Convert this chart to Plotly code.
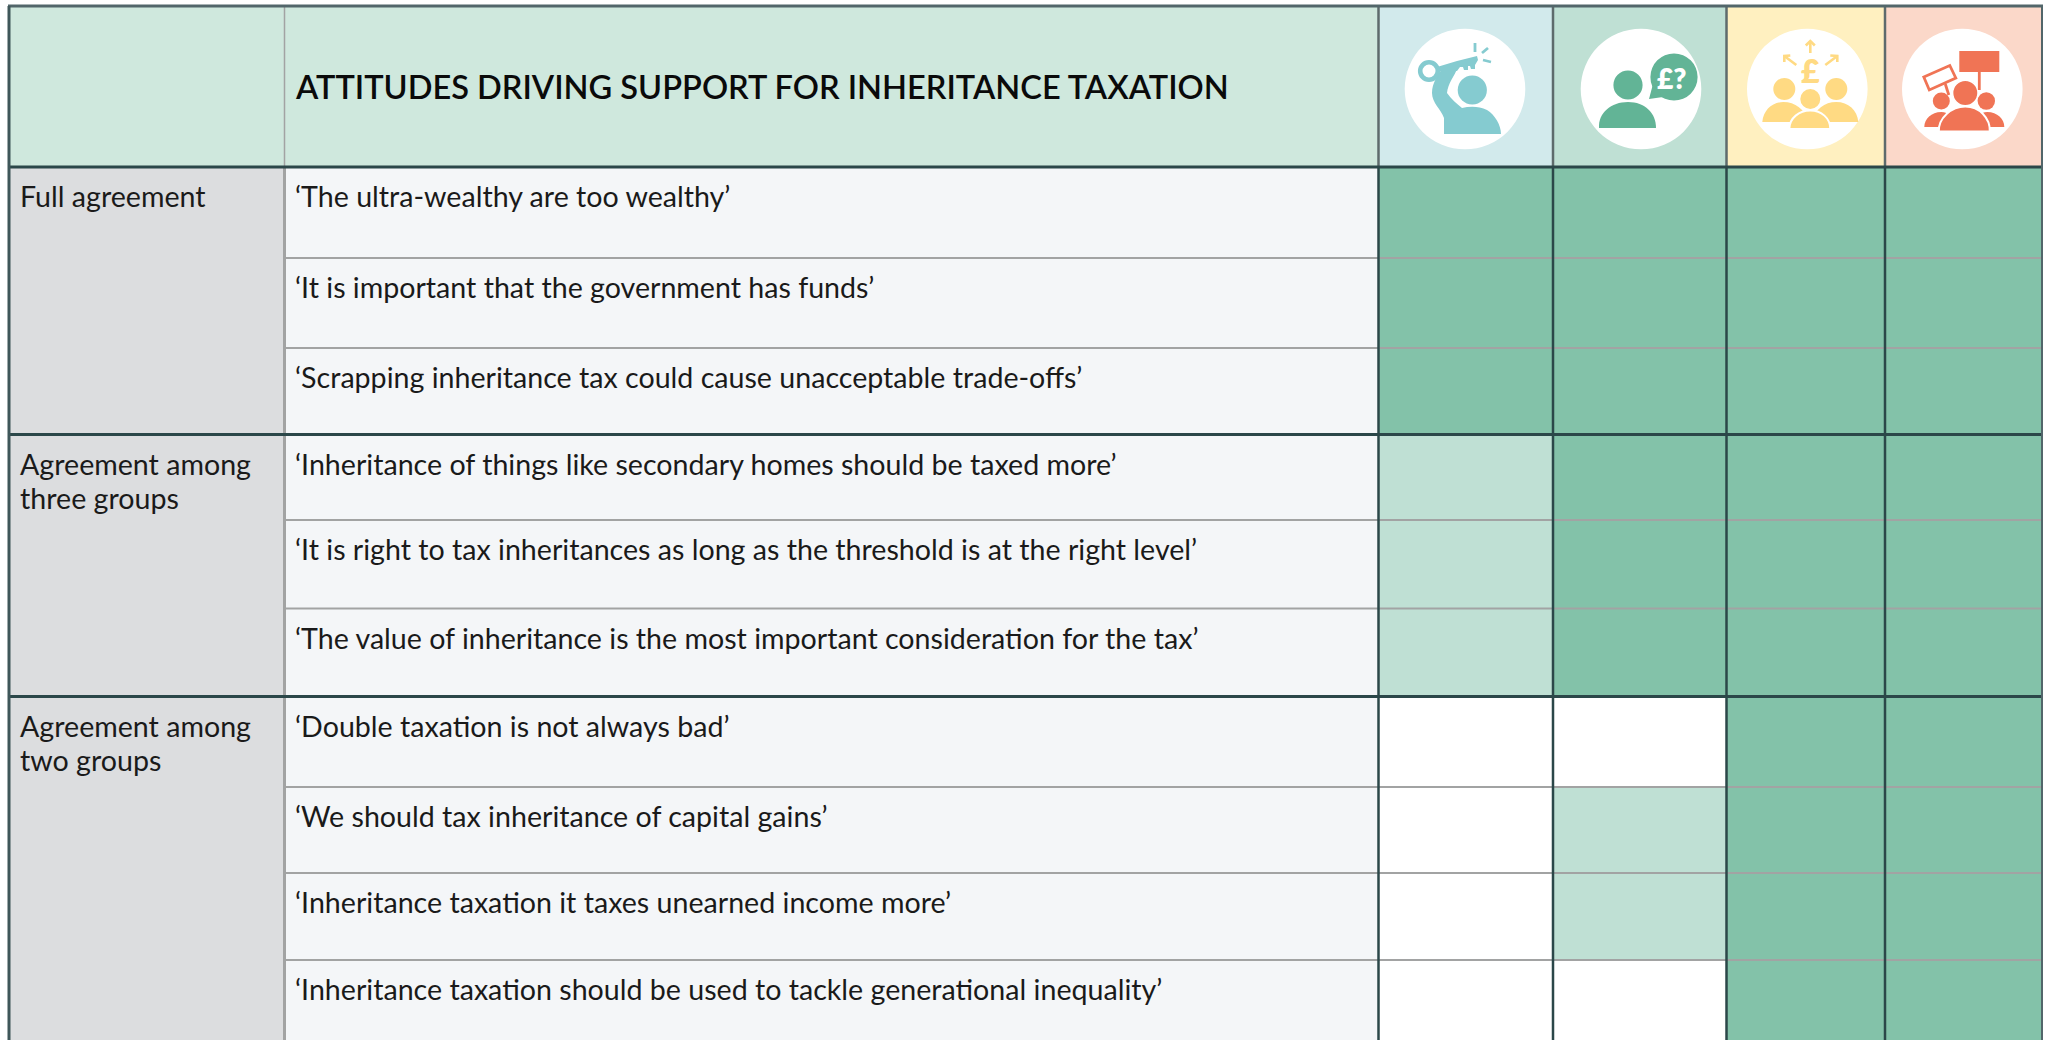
import plotly.graph_objects as go

# ---------- content ----------
title = "ATTITUDES DRIVING SUPPORT FOR INHERITANCE TAXATION"
group_labels = [["Full agreement"], ["Agreement among", "three groups"], ["Agreement among", "two groups"]]
group_sizes = [3, 3, 4]
statements = [
    "‘The ultra-wealthy are too wealthy’",
    "‘It is important that the government has funds’",
    "‘Scrapping inheritance tax could cause unacceptable trade-offs’",
    "‘Inheritance of things like secondary homes should be taxed more’",
    "‘It is right to tax inheritances as long as the threshold is at the right level’",
    "‘The value of inheritance is the most important consideration for the tax’",
    "‘Double taxation is not always bad’",
    "‘We should tax inheritance of capital gains’",
    "‘Inheritance taxation it taxes unearned income more’",
    "‘Inheritance taxation should be used to tackle generational inequality’",
]
# agreement per audience group: 0 none, 1 partial, 2 full
group_a = [2, 2, 2, 1, 1, 1, 0, 0, 0, 0]
group_b = [2, 2, 2, 2, 2, 2, 0, 1, 1, 0]
group_c = [2, 2, 2, 2, 2, 2, 2, 2, 2, 2]
group_d = [2, 2, 2, 2, 2, 2, 2, 2, 2, 2]

# ---------- page geometry (pixels) ----------
W, H = 2049, 1040
col_edges = [9, 284.5, 1378.5, 1553, 1726.5, 1885, 2042]
row_edges = [6, 167, 258, 348, 434.5, 520, 608.5, 696.5, 787, 873, 960, 1040]

DARK = "#2B4749"
GREY = "#A2A3A3"
FONT = "Lato"
TEXT = "#1A1A1A"
FS = 28.6

fig = go.Figure()
matrix_x = col_edges[2:]
matrix_y = row_edges[1:]
z = [list(r) for r in zip(group_a, group_b, group_c, group_d)]
fig.add_trace(go.Heatmap(
    x=matrix_x, y=matrix_y, z=z, zmin=0, zmax=2, showscale=False, hoverinfo="skip",
    colorscale=[[0, "#FFFFFF"], [0.33, "#FFFFFF"], [0.33, "#BFE0D4"], [0.66, "#BFE0D4"],
                [0.66, "#83C2A9"], [1, "#83C2A9"]],
))

shapes = []
def rect(x0, y0, x1, y1, color, layer="below"):
    shapes.append(dict(type="rect", xref="x", yref="y", x0=x0, y0=y0, x1=x1, y1=y1,
                       fillcolor=color, line_width=0, layer=layer))
def line(x0, y0, x1, y1, color, w):
    shapes.append(dict(type="line", xref="x", yref="y", x0=x0, y0=y0, x1=x1, y1=y1,
                       line=dict(color=color, width=w), layer="above"))

# panels
rect(col_edges[0], row_edges[0], col_edges[2], row_edges[1], "#CFE8DD")
rect(col_edges[0], row_edges[1], col_edges[1], H, "#DCDDDF")
rect(col_edges[1], row_edges[1], col_edges[2], H, "#F4F6F8")
for i, c in enumerate(["#D2EAEC", "#BFE0D4", "#FFF0C0", "#FBD8C9"]):
    rect(col_edges[2 + i], row_edges[0], col_edges[3 + i], row_edges[1], c)

# rules
starts = [sum(group_sizes[:i]) for i in range(len(group_sizes))]
major = {1 + s for s in starts}
for i, y in enumerate(row_edges[2:-1], start=2):
    if i not in major:
        line(col_edges[1], y, col_edges[-1], y, GREY, 2)
line(col_edges[1], row_edges[0], col_edges[1], row_edges[1], GREY, 1.5)
line(col_edges[1], row_edges[1], col_edges[1], H, GREY, 3)
for x in col_edges[2:-1]:
    line(x, row_edges[0], x, row_edges[1], "#5E6B6C", 2.5)
    line(x, row_edges[1], x, H, DARK, 2.5)
for i in sorted(major):
    line(col_edges[0], row_edges[i], col_edges[-1], row_edges[i], DARK, 3)
line(col_edges[0] - 1, row_edges[0], col_edges[-1] + 1, row_edges[0], "#52666A", 3)
line(col_edges[0], row_edges[0], col_edges[0], H, "#3F5759", 3)
line(col_edges[-1], row_edges[0], col_edges[-1], H, "#52666A", 2)

# ---------- icons (drawn relative to each header disc) ----------
def ell(c, dx, dy, r, color, outline=0):
    cx, cy = c[0] + dx, c[1] + dy
    shapes.append(dict(type="circle", xref="x", yref="y", x0=cx - r, x1=cx + r, y0=cy - r, y1=cy + r,
                       fillcolor=color, line_width=outline, line_color="#FFFFFF", layer="above"))
def poly(origin, pts, color, w=0, edge=None):
    ox, oy = origin
    d = "M" + " L".join(f"{ox + a:.1f},{oy + b:.1f}" for a, b in pts) + " Z"
    shapes.append(dict(type="path", xref="x", yref="y", path=d, fillcolor=color, line_width=w,
                       line_color=edge or color, layer="above"))
def stroke(origin, pts, color, w):
    ox, oy = origin
    d = "M" + " L".join(f"{ox + a:.1f},{oy + b:.1f}" for a, b in pts)
    shapes.append(dict(type="path", xref="x", yref="y", path=d, line=dict(color=color, width=w), layer="above"))
def curve(origin, d, color, outline=0):
    ox, oy = origin
    out, xy = [], True
    for tok in d.split():
        if tok.isalpha():
            out.append(tok)
        else:
            out.append(f"{float(tok) + (ox if xy else oy):.1f}")
            xy = not xy
    shapes.append(dict(type="path", xref="x", yref="y", path=" ".join(out), fillcolor=color,
                       line_width=outline, line_color="#FFFFFF", layer="above"))

discs = [(1465, 89), (1641, 89), (1807.3, 89), (1962.3, 89)]
for c in discs:
    ell(c, 0, 0, 60.3, "#FFFFFF")
notes = []

# icon 1: raised arm holding a key
c = discs[0]; col = "#85CBD0"
ell(c, 7.3, 1, 14.6, col)
curve(c, "M -21 45 L -21 29 C -24 20 -33 14 -33 4 C -33 -6 -27 -14 -22 -22 L -7 -22 "
         "C -11 -12 -17 -6 -18 4 C -14 10 -8 15 -3 19 C 5 17 14 17 22 21 C 30 26 36 36 36 45 Z", col)
poly(c, [(-28, -22), (-8, -28), (12, -33), (13, -29), (10, -24), (10, -20), (6, -20), (5, -23), (3, -23),
         (3, -19), (-1, -19), (-2, -22), (-5, -22), (-8, -18), (-25, -18)], col)
ell(c, -36, -18, 8.8, "#FFFFFF", 0)
shapes[-1].update(fillcolor="rgba(0,0,0,0)", line_width=4.6, line_color=col)
for a, b in [((10, -46), (10, -37)), ((17, -36), (23, -41)), ((18, -29), (26, -27))]:
    stroke(c, [a, b], col, 2.8)

# icon 2: person with a speech bubble
c = discs[1]; col = "#62B496"
ell(c, -13, -4, 14.6, col)
curve(c, "M -42 39 C -43 24 -30 13 -13 13 C 4 13 15 24 15 39 Z", col)
ell(c, 33, -12, 23.6, col)
poly(c, [(8, 10), (12, -5), (22, 8)], col)
notes.append((c[0] + 30.5, c[1] - 11, "£?", "#FFFFFF", 28))

# icon 3: three people and a pound sign with arrows
c = discs[2]; col = "#FFDA83"
ell(c, -23, 0, 11, col)
ell(c, 29, 0, 11, col)
curve(c, "M -45 33 C -44 21 -35 13 -24 13 C -12 13 -3 20 2 33 Z", col)
curve(c, "M 51 33 C 50 21 41 13 29 13 C 17 13 8 20 4 33 Z", col)
ell(c, 3, 10, 10, col)
curve(c, "M -18 40 C -18 29 -8 21.5 3 21.5 C 14 21.5 23 29 23 40 Z", col, outline=2)
notes.append((c[0] + 3, c[1] - 18.5, "£", col, 32))
for tail, tip, head in [((3, -36), (3, -48), [(-1.5, -43.5), (7.5, -43.5)]),
                        ((-11, -24), (-23, -33), [(-23, -27), (-17, -33.5)]),
                        ((18, -24), (30, -33), [(23, -33.5), (30, -27)])]:
    stroke(c, [tail, tip], col, 2.6)
    stroke(c, [head[0], tip, head[1]], col, 2.6)

# icon 4: protesters with placards
c = discs[3]; col = "#F07455"
curve(c, "M -38 38 C -38 30 -31 23 -21 23 C -14 23 -8 28 -6 38 Z", col)
curve(c, "M 42 38 C 42 30 35 23 25 23 C 18 23 12 28 10 38 Z", col)
ell(c, -21, 12, 8.5, col)
ell(c, 24, 12, 8.7, col)
ell(c, 3, 4, 12.7, col, outline=1.5)
curve(c, "M -23.5 42.5 C -24 29 -11 17.5 3 17.5 C 17 17.5 28 29 27.5 42.5 Z", col, outline=2)
poly(c, [(-3, -38), (37, -38), (37, -17), (-3, -17)], col)
stroke(c, [(17, -17), (17, 1)], col, 2.8)
poly(c, [(-38.5, -12), (-12.5, -23.5), (-6.5, -11), (-33, 1)], "#FFFFFF", w=2.8, edge=col)
stroke(c, [(-17, -5), (-13.5, 6)], col, 2.8)

# ---------- text ----------
ann = []
def text(x, y, s, size=FS, color=TEXT, anchor="left", weight=None):
    ann.append(dict(x=x, y=y, xref="x", yref="y", text=s, showarrow=False, xanchor=anchor, yanchor="middle",
                    align="left", font=dict(family=FONT, size=size, color=color, weight=weight)))

text(col_edges[1] + 8.5, 86, title, size=32.55, color="#0A0A0A", weight=600)
for i, s in enumerate(statements):
    text(col_edges[1] + 8, row_edges[i + 1] + 29, s)
for start, label in zip(starts, group_labels):
    for k, part in enumerate(label):
        text(17.5, row_edges[start + 1] + 29 + 34 * k, part)
for x, y, s, color, size in notes:
    text(x, y, s, size=size, color=color, anchor="center", weight=800)

fig.update_layout(
    width=W, height=H, margin=dict(l=0, r=0, t=0, b=0), showlegend=False,
    paper_bgcolor="#FFFFFF", plot_bgcolor="#FFFFFF", shapes=shapes, annotations=ann,
    xaxis=dict(range=[0, W], visible=False, fixedrange=True),
    yaxis=dict(range=[H, 0], visible=False, fixedrange=True),
)
fig.write_html("out.html", config={"displayModeBar": False},
               post_script="document.body.style.margin='0';document.body.style.overflow='hidden';")
